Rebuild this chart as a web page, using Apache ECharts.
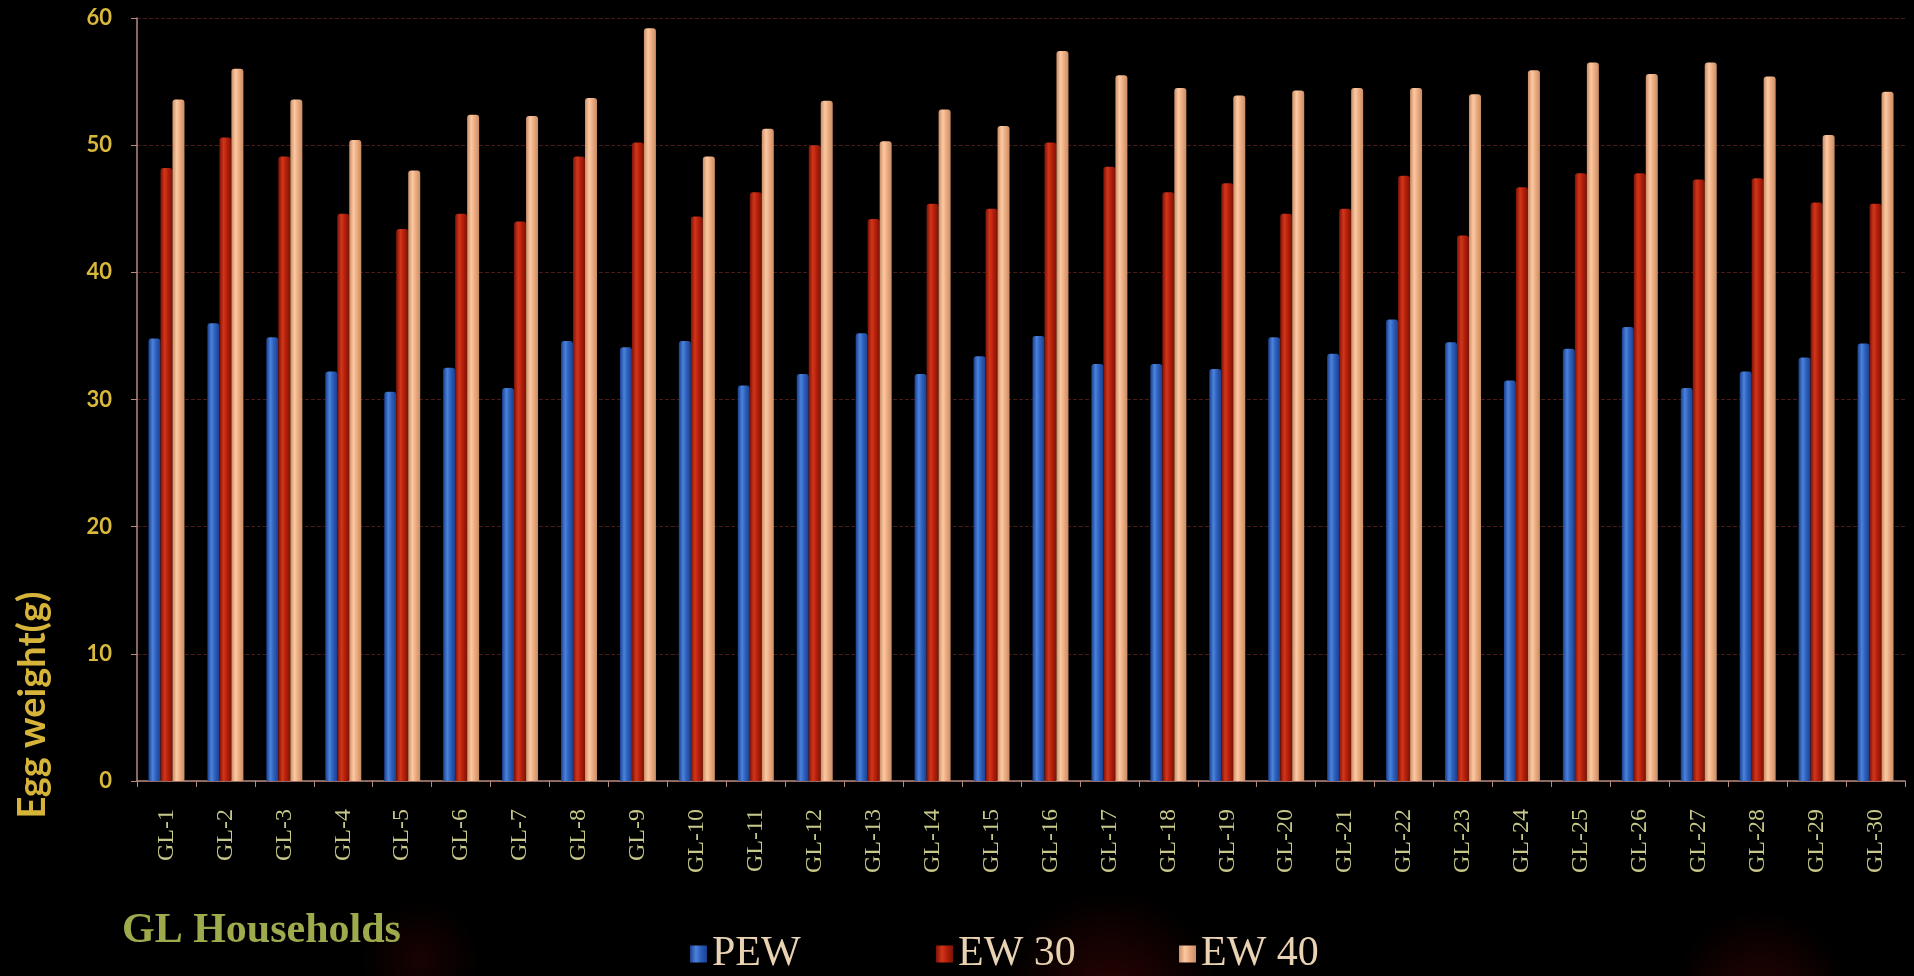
<!DOCTYPE html>
<html>
<head>
<meta charset="utf-8">
<title>Egg weight of GL households</title>
<script src="https://cdn.jsdelivr.net/npm/echarts@6/dist/echarts.min.js"></script>
<style>
  html, body { margin: 0; padding: 0; background: #000; }
  #chart { width: 1914px; height: 976px; }
</style>
</head>
<body>
<div id="chart"></div>
<script>
// Households on the x axis
const households = [
  'GL-1','GL-2','GL-3','GL-4','GL-5','GL-6','GL-7','GL-8','GL-9','GL-10',
  'GL-11','GL-12','GL-13','GL-14','GL-15','GL-16','GL-17','GL-18','GL-19','GL-20',
  'GL-21','GL-22','GL-23','GL-24','GL-25','GL-26','GL-27','GL-28','GL-29','GL-30'
];

// Egg weight (g): first egg, at 30 weeks, at 40 weeks
const pew = [
  34.8, 36.0, 34.9, 32.2, 30.6, 32.5, 30.9, 34.6, 34.1, 34.6,
  31.1, 32.0, 35.2, 32.0, 33.4, 35.0, 32.8, 32.8, 32.4, 34.9,
  33.6, 36.3, 34.5, 31.5, 34.0, 35.7, 30.9, 32.2, 33.3, 34.4
];
const ew30 = [
  48.2, 50.6, 49.1, 44.6, 43.4, 44.6, 44.0, 49.1, 50.2, 44.4,
  46.3, 50.0, 44.2, 45.4, 45.0, 50.2, 48.3, 46.3, 47.0, 44.6,
  45.0, 47.6, 42.9, 46.7, 47.8, 47.8, 47.3, 47.4, 45.5, 45.4
];
const ew40 = [
  53.6, 56.0, 53.6, 50.4, 48.0, 52.4, 52.3, 53.7, 59.2, 49.1,
  51.3, 53.5, 50.3, 52.8, 51.5, 57.4, 55.5, 54.5, 53.9, 54.3,
  54.5, 54.5, 54.0, 55.9, 56.5, 55.6, 56.5, 55.4, 50.8, 54.2
];

const yTicks = { min: 0, max: 60, interval: 10 };

const chart = echarts.init(document.getElementById('chart'));

// Cylinder-like shading across each bar
function shade(edge, mid, hi) {
  return new echarts.graphic.LinearGradient(0, 0, 1, 0, [
    { offset: 0, color: edge },
    { offset: 0.35, color: hi },
    { offset: 0.6, color: mid },
    { offset: 1, color: edge }
  ]);
}

const blue = shade('#1b3f8e', '#2f63bf', '#4a83dc');
const red = shade('#7e1206', '#b8220c', '#d2361a');
const peach = shade('#c98d64', '#eeae84', '#fcc9a2');

const legendText = { color: '#e8d2b2', fontSize: 42, fontFamily: 'Liberation Serif' };
function legendAt(name, left) {
  return {
    data: [name], left: left, top: 933,
    itemWidth: 17, itemHeight: 17, itemGap: 0,
    icon: 'rect', textStyle: legendText, padding: 0
  };
}

// soft reddish glow used for the background patches
function haze(alpha) {
  return new echarts.graphic.RadialGradient(0.5, 0.5, 0.5, [
    { offset: 0, color: 'rgba(95,8,6,' + alpha + ')' },
    { offset: 1, color: 'rgba(95,8,6,0)' }
  ]);
}

chart.setOption({
  backgroundColor: '#000',
  animation: false,
  grid: { left: 137, right: 9, top: 18, bottom: 195, containLabel: false },
  legend: [ legendAt('PEW', 690), legendAt('EW 30', 936), legendAt('EW 40', 1179) ],
  xAxis: {
    type: 'category',
    data: households,
    axisLine: { show: true, lineStyle: { color: '#b48a80', width: 1.5 } },
    axisTick: { show: true, length: 6, lineStyle: { color: '#b48a80' } },
    axisLabel: {
      rotate: 90, margin: 28, interval: 0,
      color: '#c8c88a', fontSize: 24, fontFamily: 'Liberation Serif'
    }
  },
  yAxis: {
    type: 'value',
    min: yTicks.min, max: yTicks.max, interval: yTicks.interval,
    axisLine: { show: true, lineStyle: { color: '#b48a80', width: 1.5 } },
    axisTick: { show: true, length: 6, lineStyle: { color: '#b48a80' } },
    axisLabel: {
      margin: 25, color: '#d9b93c', fontSize: 22, fontWeight: 'bold', fontFamily: 'Lato'
    },
    splitLine: { show: true, lineStyle: { color: '#4a1a16', type: 'dashed', width: 1 } }
  },
  series: [
    { name: 'PEW', type: 'bar', data: pew, barWidth: 12, barGap: '0%',
      itemStyle: { color: blue, borderRadius: [3, 3, 0, 0] } },
    { name: 'EW 30', type: 'bar', data: ew30, barWidth: 12, barGap: '0%',
      itemStyle: { color: red, borderRadius: [3, 3, 0, 0] } },
    { name: 'EW 40', type: 'bar', data: ew40, barWidth: 12, barGap: '0%',
      itemStyle: { color: peach, borderRadius: [3, 3, 0, 0] } }
  ],
  graphic: [
    // dim dark-red patches behind the lower part of the slide
    { type: 'ellipse', z: -10, silent: true,
      shape: { cx: 1110, cy: 1000, rx: 190, ry: 110 }, style: { fill: haze(0.45) } },
    { type: 'ellipse', z: -10, silent: true,
      shape: { cx: 1760, cy: 1000, rx: 280, ry: 90 }, style: { fill: haze(0.4) } },
    { type: 'ellipse', z: -10, silent: true,
      shape: { cx: 420, cy: 960, rx: 120, ry: 60 }, style: { fill: haze(0.25) } },
    { type: 'text', left: 122, top: 910,
      style: { text: 'GL Households', fill: '#9faa4c', font: 'bold 42px "Liberation Serif"' } },
    { type: 'text', x: 33, y: 705, rotation: Math.PI / 2,
      style: { text: 'Egg weight(g)', fill: '#d6b43a', font: 'bold 38px Lato',
               align: 'center', verticalAlign: 'middle' } }
  ]
});
</script>
</body>
</html>
